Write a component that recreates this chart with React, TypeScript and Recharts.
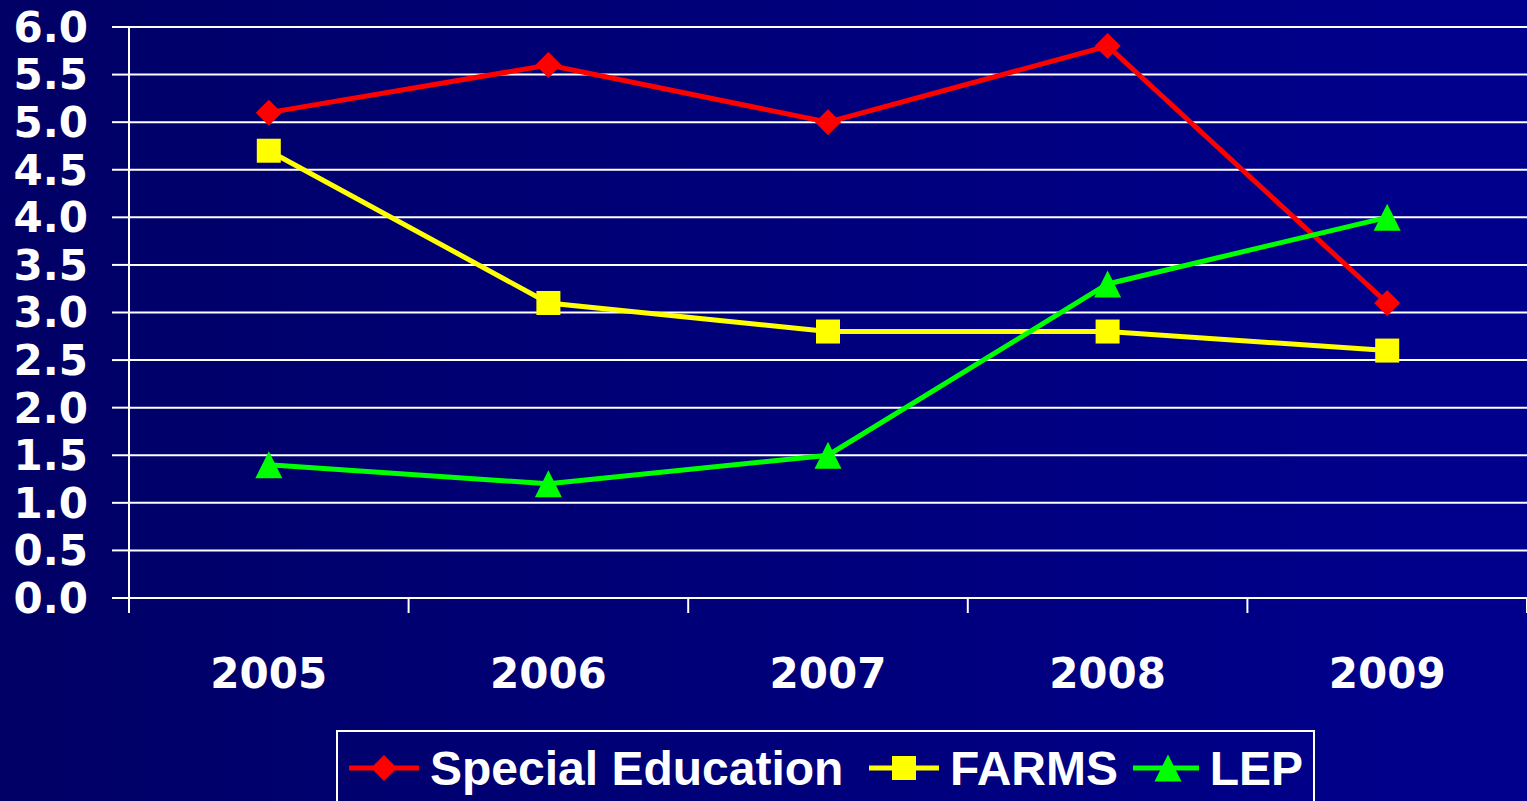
import { CartesianGrid, Legend, Line, LineChart, XAxis, YAxis } from 'recharts'

const YEARS = ['2005', '2006', '2007', '2008', '2009']
const SPECIAL_ED = [5.1, 5.6, 5.0, 5.8, 3.1]
const FARMS = [4.7, 3.1, 2.8, 2.8, 2.6]
const LEP = [1.4, 1.2, 1.5, 3.3, 4.0]
const Y_TICKS = [0, 0.5, 1, 1.5, 2, 2.5, 3, 3.5, 4, 4.5, 5, 5.5, 6]

const SERIES = [
  { key: 'special', name: 'Special Education', color: '#ff0000', shape: 'diamond', legendWidth: 520 },
  { key: 'farms', name: 'FARMS', color: '#ffff00', shape: 'square', legendWidth: 264 },
  { key: 'lep', name: 'LEP', color: '#00ff00', shape: 'triangle', legendWidth: 170 },
]

const data = YEARS.map((year, i) => ({
  idx: i,
  year,
  special: SPECIAL_ED[i],
  farms: FARMS[i],
  lep: LEP[i],
}))

const boundaryTicks = YEARS.map((_, i) => i - 0.5).concat(YEARS.length - 0.5)
const centerTicks = YEARS.map((_, i) => i)

const TICK_FONT = { fill: '#ffffff', fontSize: 42, fontWeight: 700, fontFamily: 'DejaVu Sans, Verdana, sans-serif' }

function Marker({ cx, cy, shape, color }: { cx: number; cy: number; shape: string; color: string }) {
  if (shape === 'diamond') {
    const r = 13
    return <polygon points={`${cx},${cy - r} ${cx + r},${cy} ${cx},${cy + r} ${cx - r},${cy}`} fill={color} />
  }
  if (shape === 'square') {
    const r = 12
    return <rect x={cx - r} y={cy - r} width={r * 2} height={r * 2} fill={color} />
  }
  const r = 13.5
  return <polygon points={`${cx},${cy - r} ${cx + r},${cy + r} ${cx - r},${cy + r}`} fill={color} />
}

function LegendBox() {
  return (
    <div
      style={{
        border: '2px solid #ffffff',
        height: 90,
        width: 979,
        boxSizing: 'border-box',
        display: 'flex',
        alignItems: 'center',
        paddingLeft: 11,
        paddingBottom: 14,
        fontFamily: 'Liberation Sans, Arial, sans-serif',
        fontWeight: 700,
        fontSize: 48,
        color: '#ffffff',
        whiteSpace: 'nowrap',
      }}
    >
      {SERIES.map((s) => (
        <div key={s.key} style={{ display: 'flex', alignItems: 'center', width: s.legendWidth, flexShrink: 0 }}>
          <svg width={70} height={30} style={{ marginRight: 11 }}>
            <line x1={0} y1={15} x2={70} y2={15} stroke={s.color} strokeWidth={5} />
            <Marker cx={35} cy={15} shape={s.shape} color={s.color} />
          </svg>
          <span>{s.name}</span>
        </div>
      ))}
    </div>
  )
}

export default function App() {
  return (
    <div
      style={{
        width: 1527,
        height: 801,
        overflow: 'hidden',
        background: 'linear-gradient(to right, #000066, #00008e)',
      }}
    >
      <style>{`body{margin:0}`}</style>
      <LineChart width={1527} height={801} data={data} margin={{ top: 27, right: 0, left: 0, bottom: 0 }}>
        <CartesianGrid vertical={false} stroke="#ffffff" strokeWidth={2} />
        <XAxis
          xAxisId="grid"
          dataKey="idx"
          type="number"
          domain={[-0.5, YEARS.length - 0.5]}
          ticks={boundaryTicks}
          tickFormatter={() => ''}
          axisLine={false}
          tickLine={{ stroke: '#ffffff', strokeWidth: 2 }}
          tickSize={15}
          height={15}
          interval={0}
        />
        <XAxis
          xAxisId="labels"
          dataKey="idx"
          type="number"
          domain={[-0.5, YEARS.length - 0.5]}
          ticks={centerTicks}
          tickFormatter={(v: number) => YEARS[v]}
          axisLine={false}
          tickLine={false}
          tickSize={0}
          tickMargin={45}
          height={188}
          interval={0}
          tick={TICK_FONT}
        />
        <YAxis
          domain={[0, 6]}
          ticks={Y_TICKS}
          interval={0}
          width={129}
          tickFormatter={(v: number) => v.toFixed(1)}
          tick={TICK_FONT}
          tickSize={17}
          tickMargin={24}
          axisLine={{ stroke: '#ffffff', strokeWidth: 2 }}
          tickLine={{ stroke: '#ffffff', strokeWidth: 2 }}
        />
        <Legend
          layout="vertical"
          verticalAlign="middle"
          align="center"
          wrapperStyle={{ left: 336, top: 730, width: 979, height: 90 }}
          content={() => <LegendBox />}
        />
        {SERIES.map((s) => (
          <Line
            key={s.key}
            xAxisId="grid"
            dataKey={s.key}
            name={s.name}
            stroke={s.color}
            strokeWidth={5}
            isAnimationActive={false}
            activeDot={false}
            dot={(p: any) => <Marker key={`${s.key}-${p.index}`} cx={p.cx} cy={p.cy} shape={s.shape} color={s.color} />}
          />
        ))}
      </LineChart>
    </div>
  )
}
